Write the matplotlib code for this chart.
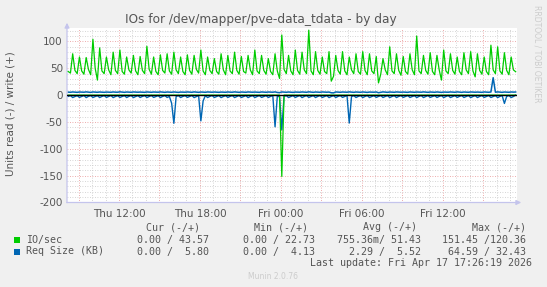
import matplotlib
matplotlib.use('Agg')
import matplotlib.pyplot as plt
from matplotlib.ticker import MultipleLocator, FixedLocator
from matplotlib.patches import Rectangle

# ---------------- data (10-minute samples starting Thu 08:14) ----------------
start_hour = 8 + 14 / 60.0
step_minutes = 10

# IO/sec write (+)
io_write = [
    44, 41, 77, 46, 40, 71, 45, 39, 70, 48, 38, 104, 50, 28, 88,
    45, 40, 71, 47, 38, 80, 46, 40, 84, 44, 39, 71, 47, 41, 74,
    45, 38, 72, 46, 40, 91, 48, 39, 71, 44, 38, 75, 46, 41, 77,
    45, 39, 80, 47, 40, 71, 44, 38, 75, 46, 39, 74, 48, 41, 84,
    45, 38, 71, 46, 40, 68, 44, 39, 77, 47, 38, 74, 45, 40, 80,
    46, 39, 72, 44, 41, 74, 47, 38, 84, 45, 40, 74, 46, 39, 68,
    44, 38, 77, 45, 31, 112, 48, 40, 74, 45, 38, 84, 46, 39, 80,
    47, 40, 121, 45, 38, 81, 46, 39, 71, 44, 40, 81, 26, 35, 74,
    46, 39, 81, 45, 38, 71, 47, 40, 77, 44, 39, 81, 46, 38, 77,
    45, 40, 72, 22.73, 39, 68, 47, 38, 90, 45, 40, 77, 46, 37, 72,
    44, 39, 77, 47, 38, 110, 45, 40, 74, 46, 39, 79, 44, 38, 74,
    47, 28, 84, 45, 40, 77, 46, 39, 71, 44, 38, 79, 47, 40, 81,
    45, 34, 77, 46, 39, 71, 44, 38, 93, 47, 40, 90, 45, 39, 79,
    46, 38, 71, 47, 43.57,
]

# IO/sec read (-)
io_read = [
    0, 0, 0, 0, 0, 0, 0, 0, 0, 0, 0, 0, 0, 0, 0,
    0, 0, 0, 0, 0, 0, 0, 0, 0, 0, 0, 0, 0, 0, 0,
    0, 0, 0, 0, 0, 0, 0, 0, 0, 0, 0, 0, 0, 0, 0,
    0, 0, 0, 0, 0, 0, 0, 0, 0, 0, 0, 0, 0, 0, 0,
    0, 0, 0, 0, 0, 0, 0, 0, 0, 0, 0, 0, 0, 0, 0,
    0, 0, 0, 0, 0, 0, 0, 0, 0, 0, 0, 0, 0, 0, 0,
    0, 0, 0, 0, 0, 151.45, 0, 0, 0, 0, 0, 0, 0, 0, 0,
    0, 0, 0, 0, 0, 0, 0, 0, 0, 0, 0, 0, 0, 0, 0,
    0, 0, 0, 0, 0, 0, 0, 0, 0, 0, 0, 0, 0, 0, 0,
    0, 0, 0, 0, 0, 0, 0, 0, 0, 0, 0, 0, 0, 0, 0,
    0, 0, 0, 0, 0, 0, 0, 0, 0, 0, 0, 0, 0, 0, 0,
    0, 0, 0, 0, 0, 0, 0, 0, 0, 0, 0, 0, 0, 0, 0,
    0, 0, 0, 0, 0, 0, 0, 0, 0, 0, 0, 0, 0, 0, 0,
    0, 0, 0, 0, 0,
]

# Req Size (KB) write (+)
req_write = [
    5.6, 5.3, 5.9, 5.5, 5.2, 5.8, 5.7, 5.4, 6.0, 5.5, 5.1, 5.9, 5.6, 5.3, 5.8,
    5.4, 5.2, 5.7, 5.6, 5.3, 5.9, 5.5, 5.4, 6.1, 5.7, 5.2, 5.8, 5.5, 5.3, 5.9,
    5.6, 5.4, 5.7, 5.4, 5.2, 5.9, 5.5, 5.3, 5.8, 5.7, 5.4, 6.0, 5.5, 5.2, 5.8,
    5.6, 5.3, 5.9, 5.4, 5.1, 5.7, 5.6, 5.4, 5.9, 5.5, 5.3, 6.0, 5.7, 5.2, 5.8,
    5.5, 5.3, 5.9, 5.6, 5.4, 5.8, 5.4, 5.2, 5.7, 5.6, 5.3, 5.9, 5.5, 5.4, 6.0,
    5.7, 5.2, 5.8, 5.5, 5.3, 5.9, 5.6, 5.4, 5.7, 5.4, 5.2, 5.9, 5.5, 5.3, 5.8,
    5.7, 5.4, 6.0, 5.0, 4.6, 5.9, 5.6, 5.3, 5.8, 5.4, 5.1, 5.7, 5.6, 5.4, 5.9,
    5.5, 5.3, 6.1, 5.7, 5.2, 5.8, 5.5, 5.3, 5.9, 5.6, 5.4, 5.7, 4.4, 4.13, 5.9,
    5.5, 5.3, 5.8, 5.7, 5.4, 6.0, 5.5, 5.2, 5.8, 5.6, 5.3, 5.9, 5.4, 5.1, 5.7,
    5.6, 5.4, 5.9, 4.5, 5.3, 6.0, 5.7, 5.2, 5.8, 5.5, 5.3, 5.9, 5.6, 5.4, 5.7,
    5.4, 5.2, 5.9, 5.5, 5.3, 5.8, 5.7, 5.4, 6.0, 5.5, 5.2, 5.8, 5.6, 5.3, 5.9,
    5.4, 5.1, 5.7, 5.6, 5.4, 5.9, 5.5, 5.3, 6.0, 5.7, 5.2, 5.8, 5.5, 5.3, 5.9,
    5.6, 5.4, 5.7, 5.4, 5.2, 5.9, 5.5, 5.3, 5.8, 32.43, 5.4, 6.0, 5.5, 5.2, 5.8,
    5.6, 5.3, 5.9, 5.6, 5.80,
]

# Req Size (KB) read (-)
req_read = [
    2.4, 0.8, 4.5, 2.6, 0.9, 4.3, 2.5, 0.7, 4.6, 2.3, 0.8, 4.4, 2.6, 0.9, 4.5,
    2.5, 0.8, 4.3, 2.4, 0.7, 4.6, 2.6, 0.9, 4.4, 2.5, 0.8, 4.5, 2.3, 0.7, 4.6,
    2.6, 0.9, 4.4, 2.4, 0.8, 4.5, 2.5, 0.7, 4.3, 2.6, 0.9, 4.6, 2.4, 0.8, 4.4,
    2.5, 15.0, 52.5, 2.6, 0.8, 4.5, 2.4, 0.9, 4.3, 2.5, 0.7, 4.6, 2.6, 0.8, 48.0,
    11.0, 0.9, 4.5, 2.4, 0.7, 4.4, 2.5, 0.8, 4.6, 2.6, 0.9, 4.3, 2.4, 0.8, 4.5,
    2.5, 0.7, 4.4, 2.6, 0.9, 4.6, 2.4, 0.8, 4.5, 2.5, 0.7, 4.3, 2.6, 0.9, 4.4,
    2.4, 0.8, 59.0, 2.0, 3.0, 64.59, 2.5, 0.8, 4.5, 2.6, 0.9, 4.4, 2.4, 0.7, 4.6,
    2.5, 0.8, 4.3, 2.6, 0.9, 4.5, 2.4, 0.7, 4.4, 2.5, 0.8, 4.6, 2.6, 0.9, 4.5,
    2.4, 0.8, 4.3, 2.5, 0.7, 52.0, 2.6, 0.9, 4.4, 2.4, 0.8, 4.6, 2.5, 0.7, 4.5,
    2.6, 0.9, 4.3, 2.4, 0.8, 4.4, 2.5, 0.7, 4.6, 2.6, 0.9, 4.5, 2.4, 0.8, 4.3,
    2.5, 0.7, 4.4, 2.6, 0.9, 4.6, 2.4, 0.8, 4.5, 2.5, 0.7, 4.3, 2.6, 0.9, 4.4,
    2.4, 0.8, 4.6, 2.5, 0.7, 4.5, 2.6, 0.9, 4.3, 2.4, 0.8, 4.4, 2.5, 0.7, 4.6,
    2.6, 0.9, 4.5, 2.4, 0.8, 4.3, 2.5, 0.7, 4.4, 2.6, 0.9, 4.6, 2.4, 0.8, 15.5,
    2.5, 0.7, 4.5, 2.6, 0.0,
]

x_tick_hours = [12, 18, 24, 30, 36]
x_tick_labels = ["Thu 12:00", "Thu 18:00", "Fri 00:00", "Fri 06:00", "Fri 12:00"]
y_ticks = [-200, -150, -100, -50, 0, 50, 100]

legend_names = ["IO/sec", "Req Size (KB)"]
legend_colors = ["#00cc00", "#0066b3"]
col_headers = ["Cur (-/+)", "Min (-/+)", "Avg (-/+)", "Max (-/+)"]
legend_values = [
    ["0.00 / 43.57", "0.00 / 22.73", "755.36m/ 51.43", "151.45 /120.36"],
    ["0.00 /  5.80", "0.00 /  4.13", "2.29 /  5.52", "64.59 / 32.43"],
]
title = "IOs for /dev/mapper/pve-data_tdata - by day"
ylabel = "Units read (-) / write (+)"
last_update = "Last update: Fri Apr 17 17:26:19 2026"

# ---------------- figure ----------------
W, H = 547, 287
fig = plt.figure(figsize=(W / 100, H / 100), dpi=100, facecolor='#f0f0f0')


def fx(x):
    return x / W


def fy(y):
    return 1 - y / H


L, R, T, B = 67, 517, 28, 202.5
ax = fig.add_axes([fx(L), fy(B), (R - L) / W, (B - T) / H])
ax.set_facecolor('white')

times = [start_hour + i * step_minutes / 60.0 for i in range(len(io_write))]

ax.set_xlim(8.145, 41.50)
ax.set_ylim(-200, 125)

# grid
minor_c = '#c8c8c8'
major_c = '#e89090'
for h in range(9, 42):
    if h % 3 == 0:
        ax.axvline(h, color=major_c, lw=0.6, ls=(0, (1, 2)), zorder=1)
    else:
        ax.axvline(h, color=minor_c, lw=0.6, ls=(0, (1, 2)), zorder=1)
for v in range(-200, 130, 10):
    if v == 0:
        continue
    if v % 50 == 0:
        ax.axhline(v, color=major_c, lw=0.6, ls=(0, (1, 2)), zorder=1)
    else:
        ax.axhline(v, color=minor_c, lw=0.6, ls=(0, (1, 2)), zorder=1)

# series
ax.plot(times, req_write, color=legend_colors[1], lw=1.1, zorder=3)
ax.plot(times, [-v for v in req_read], color=legend_colors[1], lw=1.0, zorder=3)
ax.plot(times, io_write, color=legend_colors[0], lw=0.9, zorder=4)
ax.plot(times, [-v for v in io_read], color=legend_colors[0], lw=0.9, zorder=4)
ax.axhline(0, color='black', lw=1.0, zorder=5)

for s in ['top', 'right', 'left', 'bottom']:
    ax.spines[s].set_visible(False)

ax.xaxis.set_major_locator(FixedLocator(x_tick_hours))
ax.set_xticklabels(x_tick_labels)
ax.yaxis.set_major_locator(FixedLocator(y_ticks))
ax.set_yticklabels([str(v) for v in y_ticks])
ax.tick_params(axis='both', length=0, labelsize=7.5, labelcolor='#555555', pad=3)
ax.tick_params(axis='x', pad=5)

# axis arrows
axis_c = '#c4c4ec'
ax.annotate('', xy=(fx(L), fy(20)), xytext=(fx(L), fy(B + 3)), xycoords='figure fraction',
            textcoords='figure fraction',
            arrowprops=dict(arrowstyle='-|>', color=axis_c, lw=0.9, mutation_scale=7))
ax.annotate('', xy=(fx(524), fy(B)), xytext=(fx(L - 3), fy(B)), xycoords='figure fraction',
            textcoords='figure fraction',
            arrowprops=dict(arrowstyle='-|>', color=axis_c, lw=0.9, mutation_scale=7))

# texts
fig.text(fx(261), fy(19), title, ha='center', va='center', fontsize=8.7, color='#555555')
fig.text(fx(11), fy(114), ylabel, ha='center', va='center', rotation=90, fontsize=7.5, color='#555555')
fig.text(fx(537), fy(5), "RRDTOOL / TOBI OETIKER", ha='center', va='top', rotation=270,
         fontsize=5.5, color='#cccccc')

mono = 'DejaVu Sans Mono'
fs = 7.2
hdr_right = [200, 308, 417, 526]
val_right = [209.3, 315, 420.7, 526]
for h, xr in zip(col_headers, hdr_right):
    fig.text(fx(xr), fy(227.5), h, ha='right', va='center', family=mono, fontsize=fs, color='#555555')
rows_y = [239.5, 251.5]
for name, col, vals, yy in zip(legend_names, legend_colors, legend_values, rows_y):
    fig.patches.append(Rectangle((fx(14), fy(yy + 3)), 6 / W, 6 / H, transform=fig.transFigure,
                                 facecolor=col, edgecolor='none', figure=fig))
    fig.text(fx(26.5), fy(yy), name, ha='left', va='center', family=mono, fontsize=fs, color='#555555')
    for v, xr in zip(vals, val_right):
        fig.text(fx(xr), fy(yy), v, ha='right', va='center', family=mono, fontsize=fs, color='#555555')
fig.text(fx(532.3), fy(263), last_update, ha='right', va='center', family=mono, fontsize=fs, color='#555555')
fig.text(fx(272.7), fy(276.5), "Munin 2.0.76", ha='center', va='center', fontsize=5.5, color='#cccccc')

fig.savefig('out.png', dpi=100, facecolor=fig.get_facecolor())
